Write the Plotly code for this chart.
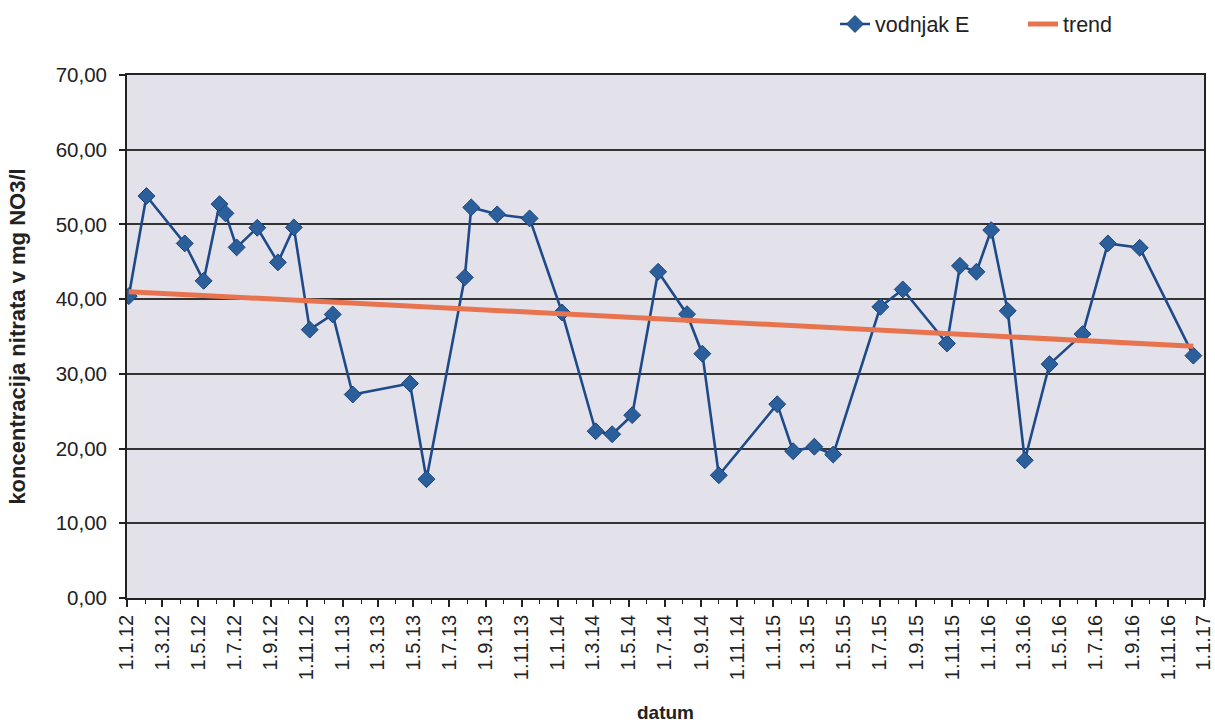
import plotly.graph_objects as go

# Nitrate concentration samples from well E
dates = [
    "2012-01-04", "2012-02-03", "2012-04-08", "2012-05-10", "2012-06-06",
    "2012-06-16", "2012-07-05", "2012-08-09", "2012-09-13", "2012-10-10",
    "2012-11-06", "2012-12-15", "2013-01-18", "2013-04-25", "2013-05-23",
    "2013-07-27", "2013-08-07", "2013-09-20", "2013-11-14", "2014-01-08",
    "2014-03-06", "2014-04-03", "2014-05-07", "2014-06-20", "2014-08-08",
    "2014-09-03", "2014-10-01", "2015-01-08", "2015-02-04", "2015-03-12",
    "2015-04-13", "2015-07-02", "2015-08-09", "2015-10-23", "2015-11-14",
    "2015-12-12", "2016-01-06", "2016-02-03", "2016-03-03", "2016-04-14",
    "2016-06-09", "2016-07-22", "2016-09-14", "2016-12-14",
]
nitrate = [
    40.40, 53.80, 47.46, 42.45, 52.72,
    51.48, 46.93, 49.55, 44.92, 49.60,
    35.92, 37.95, 27.24, 28.71, 15.90,
    42.91, 52.28, 51.35, 50.81, 38.22,
    22.32, 21.92, 24.47, 43.66, 37.99,
    32.70, 16.43, 25.94, 19.65, 20.25,
    19.20, 38.97, 41.30, 34.07, 44.46,
    43.66, 49.24, 38.44, 18.44, 31.30,
    35.32, 47.46, 46.87, 32.44,
]

# Linear trend, start and end of the sampling period
trend_dates = ["2012-01-04", "2016-12-14"]
trend_values = [41.0, 33.7]

# Bimonthly date ticks
tick_dates = [
    "2012-01-01", "2012-03-01", "2012-05-01", "2012-07-01", "2012-09-01", "2012-11-01",
    "2013-01-01", "2013-03-01", "2013-05-01", "2013-07-01", "2013-09-01", "2013-11-01",
    "2014-01-01", "2014-03-01", "2014-05-01", "2014-07-01", "2014-09-01", "2014-11-01",
    "2015-01-01", "2015-03-01", "2015-05-01", "2015-07-01", "2015-09-01", "2015-11-01",
    "2016-01-01", "2016-03-01", "2016-05-01", "2016-07-01", "2016-09-01", "2016-11-01",
    "2017-01-01",
]
tick_labels = [
    "1.1.12", "1.3.12", "1.5.12", "1.7.12", "1.9.12", "1.11.12",
    "1.1.13", "1.3.13", "1.5.13", "1.7.13", "1.9.13", "1.11.13",
    "1.1.14", "1.3.14", "1.5.14", "1.7.14", "1.9.14", "1.11.14",
    "1.1.15", "1.3.15", "1.5.15", "1.7.15", "1.9.15", "1.11.15",
    "1.1.16", "1.3.16", "1.5.16", "1.7.16", "1.9.16", "1.11.16",
    "1.1.17",
]

FONT = "Liberation Sans, Arial, sans-serif"
INK = "#222222"

fig = go.Figure()
fig.add_trace(go.Scatter(
    x=dates, y=nitrate, name="vodnjak E", mode="lines+markers",
    line=dict(color="#1f4a8a", width=2.6),
    marker=dict(symbol="diamond", size=13, color="#2b5f9c",
                line=dict(color="#1d4478", width=1)),
    legend="legend",
))
fig.add_trace(go.Scatter(
    x=trend_dates, y=trend_values, name="trend", mode="lines",
    line=dict(color="#e8744f", width=5),
    legend="legend2",
))

legend_common = dict(xref="container", yref="container", xanchor="left", yanchor="middle",
                     y=1 - 24 / 725, font=dict(size=21.5, color=INK), bgcolor="rgba(0,0,0,0)")

fig.update_layout(
    width=1215, height=725,
    margin=dict(l=127, r=11, t=75, b=127, autoexpand=False),
    paper_bgcolor="white",
    plot_bgcolor="#e3e2ea",
    separators=",.",
    font=dict(family=FONT, color=INK),
    legend=dict(x=835 / 1215, **legend_common),
    legend2=dict(x=1023 / 1215, **legend_common),
    showlegend=True,
)

fig.update_xaxes(
    type="date",
    range=["2012-01-01", "2017-01-01"],
    tickmode="array", tickvals=tick_dates, ticktext=tick_labels,
    tickangle=-90, tickfont=dict(size=20, color=INK),
    ticks="outside", ticklen=7, tickcolor=INK, tickwidth=1.5,
    minor=dict(ticks="outside", ticklen=4, tickcolor=INK, tickwidth=1.2,
               dtick="M1", tick0="2012-01-01", showgrid=False),
    showgrid=False, showline=True, linecolor=INK, linewidth=1.8, mirror=True,
    title=dict(text="<b>datum</b>", font=dict(size=19, color=INK), standoff=27),
    zeroline=False, automargin=False,
)
fig.update_yaxes(
    range=[0, 70], dtick=10, tickformat=".2f",
    tickfont=dict(size=20.5, color=INK), ticklabelstandoff=8,
    ticks="outside", ticklen=6, tickcolor=INK, tickwidth=1.5,
    showgrid=True, gridcolor="#333333", gridwidth=1.5,
    showline=True, linecolor=INK, linewidth=1.8, mirror=True,
    title=dict(text="<b>koncentracija nitrata v mg NO3/l</b>", font=dict(size=22, color=INK),
               standoff=24),
    zeroline=False, automargin=False,
)

fig.write_html("out.html")
